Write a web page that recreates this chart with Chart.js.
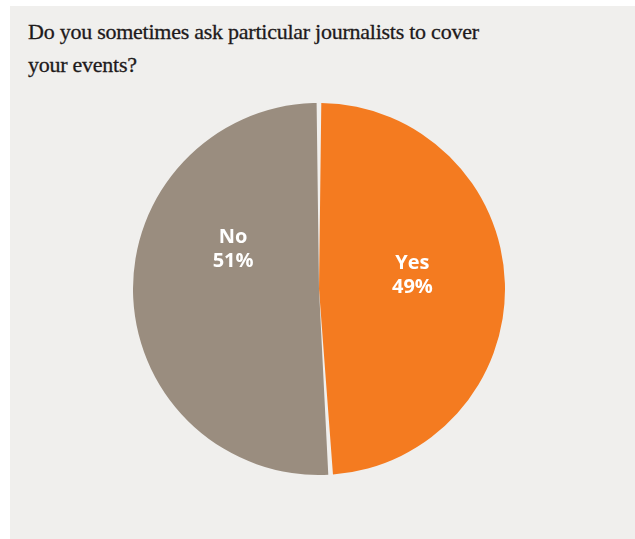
<!DOCTYPE html>
<html>
<head>
<meta charset="utf-8">
<script src="https://cdn.jsdelivr.net/npm/chart.js@4"></script>
<style>
  html, body { margin: 0; padding: 0; background: #ffffff; }
  .panel {
    position: absolute; left: 10px; top: 6px; width: 625px; height: 533px;
    background: #f0efed;
  }
  .panel h1 {
    position: absolute; left: 18px; top: 9px; margin: 0;
    font: normal 22px/33px "Liberation Serif", serif;
    letter-spacing: -0.25px;
    color: #1e1a1b; width: 580px;
    -webkit-text-stroke: 0.3px #1e1a1b;
  }
  .pie-box {
    position: absolute; left: 122.5px; top: 96.5px; width: 372px; height: 372px;
  }
</style>
</head>
<body>
<div class="panel">
  <h1>Do you sometimes ask particular journalists to cover<br>your events?</h1>
  <div class="pie-box"><canvas id="pieChart"></canvas></div>
</div>
<script>
// Survey answers
const answers = ['Yes', 'No'];
const shares = [49, 51];
const sliceColors = ['#f47b20', '#9a8d7f'];
// nudge (degrees) applied to each label's angle inside its slice
const labelTurn = [-6.7, 26.4];

// Writes "answer / share%" in white inside each slice
const sliceLabels = {
  id: 'sliceLabels',
  afterDatasetsDraw(chart) {
    const ctx = chart.ctx;
    const meta = chart.getDatasetMeta(0);
    ctx.save();
    ctx.fillStyle = '#ffffff';
    ctx.font = 'bold 20px "Open Sans", sans-serif';
    ctx.textAlign = 'center';
    ctx.textBaseline = 'middle';
    meta.data.forEach((arc, i) => {
      const p = arc.getProps(['x', 'y', 'startAngle', 'endAngle', 'outerRadius']);
      const mid = (p.startAngle + p.endAngle) / 2 + labelTurn[i] * Math.PI / 180;
      const dist = p.outerRadius * 0.51;
      const cx = p.x + Math.cos(mid) * dist;
      const cy = p.y + Math.sin(mid) * dist;
      ctx.fillText(answers[i], cx, cy - 12);
      ctx.fillText(shares[i] + '%', cx, cy + 12);
    });
    ctx.restore();
  }
};

document.addEventListener('DOMContentLoaded', function() {
  const pieCtx = document.getElementById('pieChart').getContext('2d');
  new Chart(pieCtx, {
    type: 'pie',
    data: { labels: answers, datasets: [{ data: shares, backgroundColor: sliceColors, borderWidth: 0, spacing: 1.5 }] },
    options: {
      responsive: true,
      maintainAspectRatio: false,
      animation: false,
      layout: { padding: 0 },
      plugins: { legend: { display: false }, tooltip: { enabled: false } }
    },
    plugins: [sliceLabels]
  });
});
</script>
</body>
</html>
